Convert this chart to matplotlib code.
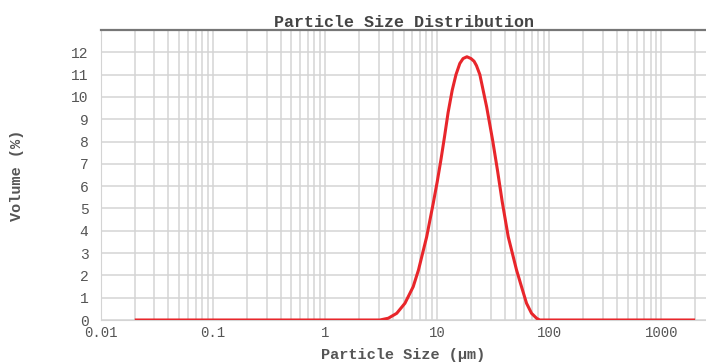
import matplotlib
matplotlib.use('Agg')
import matplotlib.pyplot as plt
from matplotlib.ticker import FixedLocator, LogLocator, NullFormatter

# particle size (um) and volume (%)
size_um = [0.02, 3.08, 3.66, 4.35, 5.15, 6.1, 6.8, 8.05, 9.2, 10.0, 10.8,
           11.6, 12.5, 13.6, 14.7, 15.9, 17.0, 18.4, 20.0, 21.3, 22.4, 24.0,
           27.6, 31.2, 34.5, 38.0, 43.0, 51.0, 56.5, 62.6, 69.4, 76.9, 82.0,
           2000.0]
volume_pct = [0, 0, 0.08, 0.3, 0.75, 1.49, 2.24, 3.73, 5.22, 6.2, 7.2,
              8.2, 9.3, 10.3, 11.0, 11.5, 11.72, 11.8, 11.72, 11.6, 11.4, 11.0,
              9.55, 8.06, 6.7, 5.3, 3.73, 2.24, 1.49, 0.75, 0.3, 0.08, 0,
              0]
x_ticks = [0.01, 0.1, 1, 10, 100, 1000]
x_tick_labels = ['0.01', '0.1', '1', '10', '100', '1000']
y_ticks = list(range(0, 13))

font = 'Liberation Mono'
grid_col = '#d4d4d4'

fig = plt.figure(figsize=(7.06, 3.63), dpi=100)
ax = fig.add_axes([101 / 706, 43 / 363, 605 / 706, 290 / 363])

ax.plot(size_um, volume_pct, color='#e8262b', lw=2.2, solid_capstyle='butt',
        solid_joinstyle='round', zorder=3)

ax.set_xscale('log')
ax.set_xlim(0.01, 2500)
ax.set_ylim(0, 13)

ax.xaxis.set_major_locator(FixedLocator(x_ticks))
ax.set_xticklabels(x_tick_labels, fontfamily=font, fontsize=10, color='#555555')
ax.xaxis.set_minor_locator(LogLocator(base=10, subs=range(2, 10)))
ax.xaxis.set_minor_formatter(NullFormatter())
ax.set_yticks(y_ticks)
ax.set_yticklabels([str(v) for v in y_ticks], fontfamily=font, fontsize=10.5,
                   color='#555555')
ax.yaxis.set_minor_locator(FixedLocator([13]))

ax.tick_params(which='both', length=0)
ax.tick_params(axis='x', pad=4)
ax.tick_params(axis='y', pad=9)

ax.grid(True, which='both', axis='x', color=grid_col, lw=1.1)
ax.grid(True, which='both', axis='y', color=grid_col, lw=1.1)
ax.set_axisbelow(True)

ax.spines['right'].set_visible(False)
ax.spines['top'].set_color('#777777')
ax.spines['top'].set_linewidth(1.6)
ax.spines['left'].set_color(grid_col)
ax.spines['bottom'].set_color(grid_col)

ax.set_title('Particle Size Distribution', fontfamily=font, fontsize=12,
             fontweight='bold', color='#444444', pad=0)
ax.set_xlabel('Particle Size (μm)', fontfamily=font, fontsize=11,
              fontweight='bold', color='#555555', labelpad=6)
ax.set_ylabel('Volume (%)', fontfamily=font, fontsize=11,
              fontweight='bold', color='#555555', labelpad=34)

fig.savefig('out.png', dpi=100)
